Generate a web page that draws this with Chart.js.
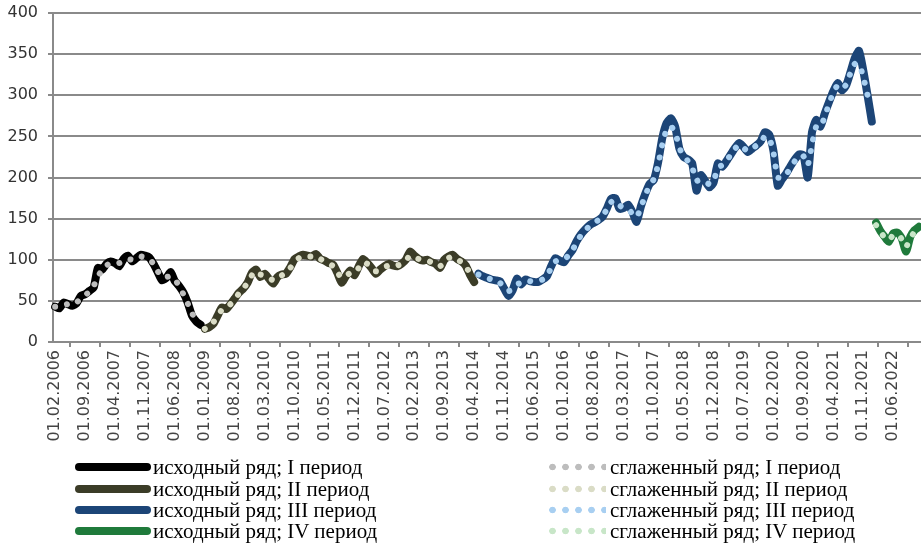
<!DOCTYPE html>
<html>
<head>
<meta charset="utf-8">
<script src="https://cdn.jsdelivr.net/npm/chart.js@4.4.1/dist/chart.umd.min.js"></script>
<style>
  body { margin: 0; background: #fff; }
  #wrap { position: absolute; left: 0; top: 0; width: 921px; height: 450px; }
  #legend { position: absolute; left: 0; top: 0; width: 921px; height: 543px; pointer-events: none;
            font-family: "Liberation Serif", "Times New Roman", serif; font-size: 21px; color: #000; }
  .item { position: absolute; height: 22px; display: flex; align-items: center; white-space: nowrap; }
  .line { width: 76px; height: 8px; border-radius: 4px; margin-right: 2px; }
  .dots { width: 60px; height: 8px; margin-right: 4px; background-size: 13px 8px; background-repeat: repeat-x; }
</style>
</head>
<body>
<div id="wrap"><canvas id="myChart" width="921" height="450"></canvas></div>
<div id="legend"></div>
<script>
// monthly categories, 01.02.2006 .. 01.12.2022
var months = [];
for (var i = 0; i < 203; i++) {
  var m = (i + 1) % 12 + 1;
  var y = 2006 + Math.floor((i + 1) / 12);
  months.push('01.' + (m < 10 ? '0' + m : m) + '.' + y);
}

// where each period starts (index into months)
var startI = 0, startII = 35, startIII = 99, startIV = 192;

// original series
var rawI = [43, 41, 48, 46, 44, 47, 56, 58, 62, 66, 90, 88, 95, 98, 96, 92, 101, 105, 98, 102,
            106, 105, 103, 95, 85, 75, 78, 85, 74, 68, 60, 48, 32, 25, 21];
var rawII = [16, 18, 22, 32, 42, 40, 46, 53, 60, 65, 72, 84, 88, 79, 83, 77, 71, 79, 82, 83,
             91, 101, 104, 106, 105, 104, 107, 101, 99, 96, 94, 84, 72, 80, 87, 81, 92, 101, 96, 90,
             83, 88, 92, 95, 93, 92, 95, 100, 110, 105, 101, 99, 100, 97, 95, 90, 100, 104, 106, 101,
             98, 93, 82, 73];
var rawIII = [83, 80, 78, 76, 75, 74, 65, 56, 63, 77, 70, 76, 74, 73, 73, 76, 80, 92, 102, 99,
              97, 105, 112, 123, 131, 137, 142, 145, 148, 152, 162, 174, 175, 162, 163, 167, 158, 146, 165, 180,
              192, 197, 218, 248, 266, 272, 262, 235, 225, 222, 217, 184, 203, 196, 188, 194, 217, 213, 220, 228,
              236, 242, 237, 231, 235, 239, 244, 255, 252, 232, 190, 198, 205, 214, 222, 228, 227, 200, 255, 270,
              262, 278, 292, 305, 315, 306, 312, 328, 345, 354, 330, 300, 268];
var rawIV = [145, 135, 128, 122, 132, 133, 126, 110, 128, 136, 140];

// smoothed series
var smoothI = [43, 43, 45, 46, 46, 48, 53, 57, 61, 68, 80, 87, 93, 96, 96, 96, 99, 101, 100, 102,
               104, 103, 101, 95, 86, 79, 79, 80, 76, 68, 58, 47, 35, 27, 22];
var smoothII = [16, 19, 24, 32, 39, 42, 46, 52, 59, 65, 72, 81, 86, 82, 81, 78, 75, 78, 81, 84,
                90, 98, 102, 104, 104, 104, 104, 101, 98, 96, 92, 85, 78, 80, 84, 84, 90, 97, 95, 90,
                86, 88, 91, 93, 93, 93, 95, 99, 105, 104, 101, 100, 99, 97, 95, 92, 97, 102, 104, 101,
                97, 92, 84, 76];
var smoothIII = [82, 80, 78, 76, 74, 72, 66, 62, 64, 70, 72, 74, 74, 73, 74, 76, 80, 90, 98, 100,
                 100, 105, 112, 121, 130, 136, 141, 145, 148, 153, 161, 170, 172, 166, 163, 162, 156, 152, 164, 178,
                 190, 198, 215, 240, 258, 262, 255, 236, 226, 220, 212, 196, 198, 195, 192, 196, 212, 215, 220, 228,
                 235, 240, 236, 232, 235, 239, 243, 250, 248, 230, 200, 200, 204, 212, 220, 226, 226, 215, 240, 262,
                 262, 274, 290, 303, 312, 308, 313, 327, 338, 338, 322, 300];
var smoothIV = [142, 134, 127, 124, 130, 131, 125, 116, 126, 134, 138];

var yTicks = [0, 50, 100, 150, 200, 250, 300, 350, 400];

// put a period's values at its place on the month axis
function pad(arr, start) {
  var out = months.map(function () { return null; });
  arr.forEach(function (v, k) { out[start + k] = v; });
  return out;
}

function rawSet(label, arr, start, color) {
  return { label: label, data: pad(arr, start), borderColor: color, backgroundColor: color,
           borderWidth: 8, borderCapStyle: 'round', borderJoinStyle: 'round',
           pointRadius: 0, tension: 0.2, order: 1, kind: 'raw' };
}
function smoothSet(label, arr, start, color) {
  return { label: label, data: pad(arr, start), borderColor: color, backgroundColor: color,
           borderWidth: 6, borderDash: [0.01, 12], borderCapStyle: 'round',
           pointRadius: 0, tension: 0.2, order: 0, kind: 'smooth' };
}

var datasets = [
  rawSet('исходный ряд; I период', rawI, startI, '#000000'),
  rawSet('исходный ряд; II период', rawII, startII, '#3b3c27'),
  rawSet('исходный ряд; III период', rawIII, startIII, '#1c4577'),
  rawSet('исходный ряд; IV период', rawIV, startIV, '#1f7a3b'),
  smoothSet('сглаженный ряд; I период', smoothI, startI, '#bdbdbd'),
  smoothSet('сглаженный ряд; II период', smoothII, startII, '#dadcc6'),
  smoothSet('сглаженный ряд; III период', smoothIII, startIII, '#a8cff1'),
  smoothSet('сглаженный ряд; IV период', smoothIV, startIV, '#c8e6c8')
];

var axisGray = '#8a8a8a';
var tickFont = { family: 'DejaVu Sans', size: 16 };

var ctx = document.getElementById('myChart');
var myChart = new Chart(ctx, {
  type: 'line',
  data: { labels: months, datasets: datasets },
  options: {
    responsive: false,
    animation: false,
    layout: { padding: { top: 13, right: 0, bottom: 0, left: 0 } },
    plugins: { legend: { display: false }, tooltip: { enabled: false } },
    scales: {
      x: {
        offset: true,
        grid: { offset: true, drawOnChartArea: false, tickLength: 5, lineWidth: 2, color: axisGray },
        border: { color: axisGray, width: 2 },
        ticks: {
          autoSkip: false, maxRotation: 90, minRotation: 90, padding: 3,
          font: tickFont, color: '#444444',
          // label only every 7th month, like the original
          callback: function (v, i) { return i % 7 === 0 ? this.getLabelForValue(v) : null; }
        },
        afterFit: function (s) { s.height = 108; s.paddingLeft = 0; s.paddingRight = 0; }
      },
      y: {
        min: 0, max: 400,
        afterBuildTicks: function (s) { s.ticks = yTicks.map(function (v) { return { value: v }; }); },
        grid: { color: axisGray, lineWidth: 2, tickLength: 5 },
        border: { color: axisGray, width: 2 },
        ticks: { padding: 10, font: tickFont, color: '#333333' },
        afterFit: function (s) { s.width = 53; s.paddingTop = 0; s.paddingBottom = 0; }
      }
    }
  }
});

// legend: originals on the left, smoothed on the right
var legend = document.getElementById('legend');
var rowY = [467, 489, 510, 531];
datasets.forEach(function (ds) {
  var k = ds.kind === 'raw' ? datasets.indexOf(ds) : datasets.indexOf(ds) - 4;
  var item = document.createElement('div');
  item.className = 'item';
  item.style.top = (rowY[k] - 11) + 'px';
  item.style.left = (ds.kind === 'raw' ? 75 : 546) + 'px';
  var sample = document.createElement('span');
  if (ds.kind === 'raw') {
    sample.className = 'line';
    sample.style.background = ds.borderColor;
  } else {
    sample.className = 'dots';
    sample.style.backgroundImage = 'radial-gradient(circle, ' + ds.borderColor + ' 3px, transparent 3.6px)';
  }
  var text = document.createElement('span');
  text.textContent = ds.label;
  item.appendChild(sample);
  item.appendChild(text);
  legend.appendChild(item);
});
</script>
</body>
</html>
